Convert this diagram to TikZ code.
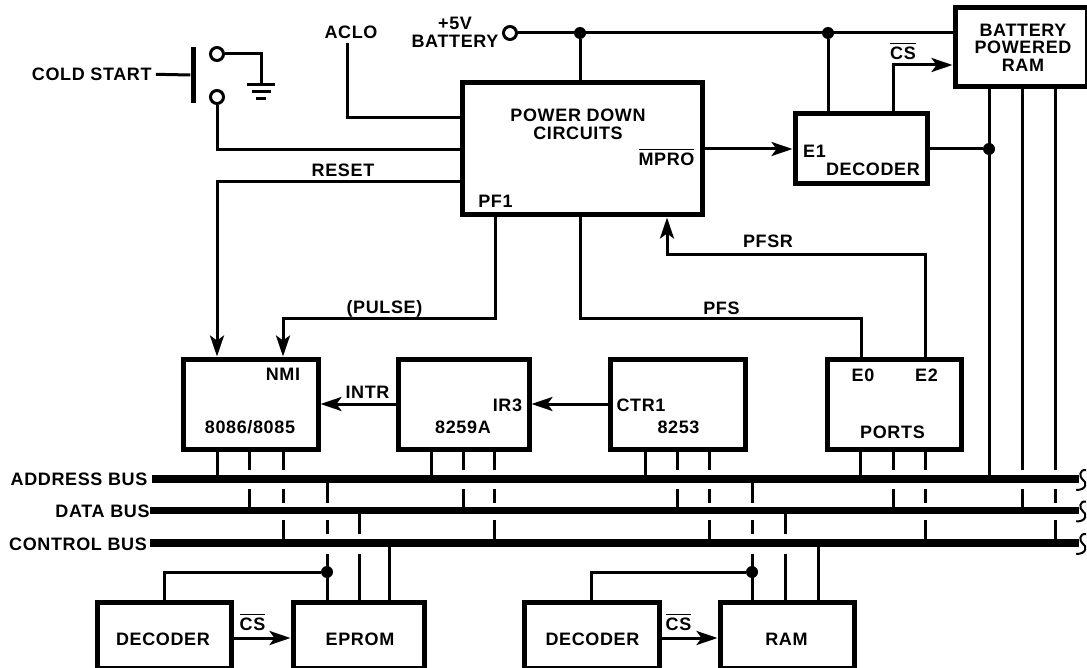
\documentclass[tikz,border=0pt]{standalone}
\usepackage{fontspec}
\setmainfont[LetterSpace=3.5]{Liberation Sans}
\usetikzlibrary{arrows.meta, positioning, calc}
\newcommand{\barred}[1]{\vbox{\hrule height 1.3pt \kern 2.5pt\hbox{#1}}}
\begin{document}
\begin{tikzpicture}[x=1pt, y=-1pt,
    wire/.style={line width=3pt},
    arrowwire/.style={wire, -{Stealth[length=21pt,width=14pt,inset=5pt]}},
    chip/.style={draw, line width=5pt, inner sep=0pt},
    bus/.style={fill=black, inner sep=0pt},
    dot/.style={circle, fill=black, inner sep=0pt, minimum size=12pt},
    term/.style={circle, draw, line width=3pt, inner sep=0pt, minimum size=13pt},
    lbl/.style={font=\bfseries\fontsize{18}{18}\selectfont, inner sep=0pt, anchor=base, yshift=-6.5pt},
    block/.style={font=\bfseries\fontsize{18}{17.5}\selectfont, inner sep=0pt, align=center}]
  \useasboundingbox (0,0) rectangle (1087,668);
  % Boxes
  \foreach \nm/\cx/\cy/\w/\h in {
      pwr/582/149/240/132, bram/1021/47.5/132/79, dec/861/149/132/70,
      cpu/250.5/404/135/90, pic/463.5/404/131/90, timer/677.5/404/135/90, ports/894/404/134/90,
      deca/164.25/635/133.5/66, eprom/358.75/635/131.5/66,
      decb/591.75/635/134.5/66, ram/787/635/134/66}{
    \node[chip, minimum width=\w pt, minimum height=\h pt] (\nm) at (\cx,\cy) {};
  }
  % Buses
  \node[bus, minimum width=927.5pt, minimum height=8pt] (addrbus) at (615.25,479) {};
  \node[bus, minimum width=929pt, minimum height=7pt] (databus) at (614.5,510.5) {};
  \node[bus, minimum width=929pt, minimum height=7.5pt] (ctlbus) at (614.5,543) {};
  % Labels
  \foreach \nm/\cx/\cy/\txt in {
      cold/91.75/74/COLD START, aclo/351/32/ACLO, pfone/495.5/201/PF1, reset/343/170/RESET,
      pulse/384.5/307/(PULSE), pfs/721.5/308/PFS, pfsr/768/241/PFSR, mpro/666.5/159/{\barred{MPRO}},
      csa/903/53/{\barred{CS}}, eone/814.5/151/E1, decname/873/169/DECODER, nmi/283/374/NMI,
      cpuname/250/427/{8086/8085}, intr/367.5/392/INTR, irthree/507.5/405/IR3, picname/463/427/8259A,
      ctrone/641/405/CTR1, timername/678.5/427/8253, ezero/863/375/E0, etwo/926.5/375/E2,
      portsname/892.5/432/PORTS, addrname/79/479/ADDRESS BUS, dataname/102.5/511/DATA BUS,
      ctlname/78/544/CONTROL BUS, decaname/163/639/DECODER, epromname/360/639/EPROM,
      decbname/592.5/639/DECODER, ramname/786.5/639/RAM, csb/252.5/624/{\barred{CS}}, csc/678.5/624/{\barred{CS}}}{
    \node[lbl] (\nm) at (\cx,\cy) {\txt};
  }
  \node[block] (battname) at (455,32.5) {+5V\\BATTERY};
  \node[block] (pwrname) at (578,124.5) {POWER DOWN\\CIRCUITS};
  \node[block] (bramname) at (1023,47.5) {BATTERY\\POWERED\\RAM};
  % Cold start switch
  \node[fill=black, inner sep=0pt, minimum width=5pt, minimum height=56pt] (btn) at (193,75) {};
  \node[term] (swtop) at (217,54) {};
  \node[term] (swbot) at (217,97) {};
  \coordinate (gnd) at (261,85);
  \draw[wire] ([xshift=4pt]cold.east) -- (btn.west);
  \draw[wire] (swtop.east) -| (gnd);
  \draw[wire] (swbot.south) |- (pwr.west |- 0,150);
  \draw[wire] ($(gnd)+(-14,0)$) -- ($(gnd)+(14,0)$);
  \draw[wire] ($(gnd)+(-9.5,7)$) -- ($(gnd)+(9.5,7)$);
  \draw[wire] ($(gnd)+(-5,14)$) -- ($(gnd)+(5,14)$);
  % Supply rail
  \node[term] (batt) at (510,33) {};
  \node[dot] (dota) at (580,33) {};
  \node[dot] (dotb) at (828,33) {};
  \node[dot] (dotc) at (989,149) {};
  \draw[wire] (batt.east) -- (bram.west |- batt);
  \draw[wire] (dota) -- (dota |- pwr.north);
  \draw[wire] (dotb) -- (dotb |- dec.north);
  % Power down signals
  \coordinate (acloend) at (347,43);
  \draw[wire] (acloend) |- (pwr.west |- 0,118);
  \draw[arrowwire] (pwr.west |- 0,182) -| (217,0 |- cpu.north);
  \draw[arrowwire] (495,0 |- pwr.south) |- (283,319) -- (283,0 |- cpu.north);
  \draw[wire] (dota |- pwr.south) |- (861,319) -- (861,0 |- ports.north);
  \draw[arrowwire] (925,0 |- ports.north) |- (667,255) -- (667,0 |- pwr.south);
  \draw[arrowwire] (pwr.east) -- (dec.west);
  \draw[arrowwire] (893,0 |- dec.north) |- (bram.west |- 0,65);
  \draw[wire] (dec.east) -- (dotc);
  \draw[arrowwire] (pic.west) -- (cpu.east);
  \draw[arrowwire] (timer.west) -- (pic.east);
  % Pins down to the buses
  \foreach \chip/\xa/\xb/\xc in {
      cpu/217/249/283, pic/431/463/494, timer/645/677/709, ports/860/893/925, bram/989/1022/1055}{
    \draw[wire] (\xa,0 |- \chip.south) -- (\xa,0 |- addrbus.north);
    \draw[wire] (\xb,0 |- \chip.south) -- (\xb,470);
    \draw[wire] (\xb,489) -- (\xb,0 |- databus.north);
    \draw[wire] (\xc,0 |- \chip.south) -- (\xc,470);
    \draw[wire] (\xc,489) -- (\xc,503);
    \draw[wire] (\xc,520) -- (\xc,0 |- ctlbus.north);
  }
  % Memories
  \foreach \mem/\decod/\xa/\xb/\xc in {eprom/deca/327/359/389, ram/decb/752/785/818}{
    \node[dot] (\mem dot) at (\xa,572) {};
    \draw[wire] (\xa,0 |- addrbus.south) -- (\xa,503);
    \draw[wire] (\xa,520) -- (\xa,534);
    \draw[wire] (\xa,554) -- (\xa,0 |- \mem.north);
    \draw[wire] (\xb,0 |- databus.south) -- (\xb,534);
    \draw[wire] (\xb,554) -- (\xb,0 |- \mem.north);
    \draw[wire] (\xc,0 |- ctlbus.south) -- (\xc,0 |- \mem.north);
    \draw[wire] (\decod.north) |- (\mem dot);
    \draw[arrowwire] ([yshift=-3pt]\decod.east) -- ([yshift=-3pt]\mem.west);
  }
  % Bus ends
  \foreach \bus in {addrbus, databus, ctlbus}{
    \draw[line width=2pt] ($(\bus.east)+(7,-9)$) .. controls ($(\bus.east)+(0,-10)$) and ($(\bus.east)+(0,-2)$) .. ($(\bus.east)+(3,0)$)
      .. controls ($(\bus.east)+(8,3)$) and ($(\bus.east)+(8,11)$) .. ($(\bus.east)+(-3,11)$);
  }
\end{tikzpicture}
\end{document}
